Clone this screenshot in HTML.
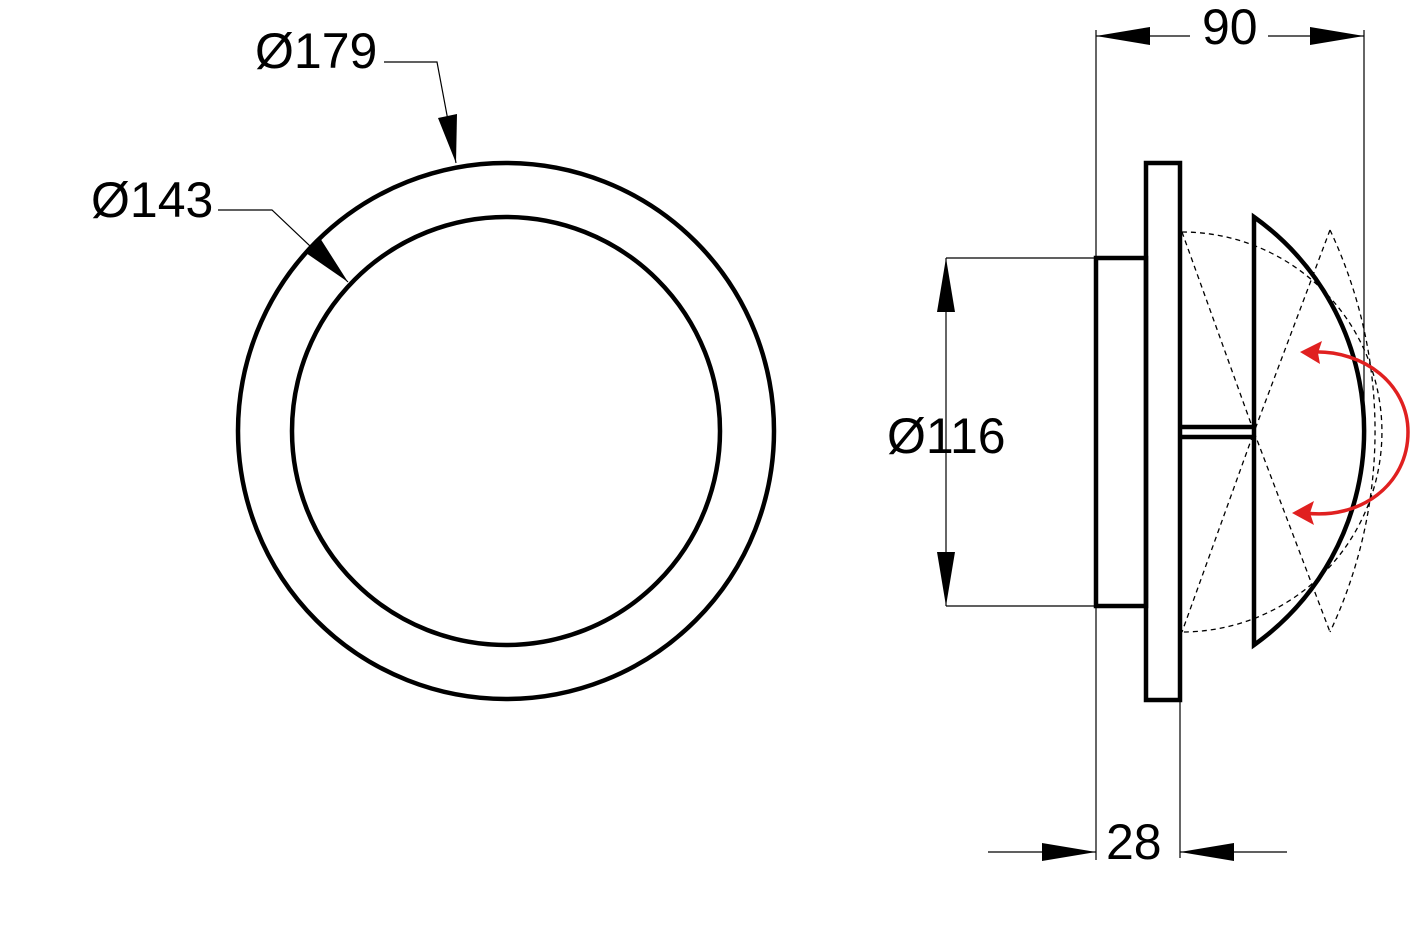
<!DOCTYPE html>
<html><head><meta charset="utf-8"><style>
html,body{margin:0;padding:0;background:#fff;}
svg{display:block;}
text{font-family:"Liberation Sans",sans-serif;font-size:50px;fill:#000;}
</style></head><body>
<svg width="1410" height="925" viewBox="0 0 1410 925" xmlns="http://www.w3.org/2000/svg">
<rect width="1410" height="925" fill="#fff"/>
<circle cx="506" cy="431" r="268" fill="none" stroke="#000" stroke-width="4.5"/>
<circle cx="506" cy="431" r="214" fill="none" stroke="#000" stroke-width="4.5"/>
<text x="255" y="68">Ø179</text>
<polyline points="384,62 437,62 456,163" fill="none" stroke="#000" stroke-width="1.2"/>
<polygon points="456,163 438,118 457,114" fill="#000"/>
<text x="91" y="217">Ø143</text>
<polyline points="218,210 272,210 348,282" fill="none" stroke="#000" stroke-width="1.2"/>
<polygon points="348,282 306,253 320,238" fill="#000"/>
<g stroke="#000" stroke-width="1.2" fill="none">
<line x1="1096" y1="30" x2="1096" y2="860"/>
<line x1="1364" y1="30" x2="1364" y2="431"/>
<line x1="1180" y1="700" x2="1180" y2="858"/>
<line x1="1096" y1="36" x2="1190" y2="36"/>
<line x1="1268" y1="36" x2="1364" y2="36"/>
<line x1="946" y1="258" x2="1096" y2="258"/>
<line x1="946" y1="606" x2="1096" y2="606"/>
<line x1="946" y1="258" x2="946" y2="606"/>
<line x1="988" y1="852" x2="1096" y2="852"/>
<line x1="1180" y1="852" x2="1287" y2="852"/>
</g>
<polygon points="1096,36 1150,27 1150,45" fill="#000"/>
<polygon points="1364,36 1310,27 1310,45" fill="#000"/>
<polygon points="946,258 937,312 955,312" fill="#000"/>
<polygon points="946,606 937,552 955,552" fill="#000"/>
<polygon points="1096,852 1042,843 1042,861" fill="#000"/>
<polygon points="1180,852 1234,843 1234,861" fill="#000"/>
<text x="1202" y="44">90</text>
<text x="1106" y="859">28</text>
<text x="887" y="453">Ø116</text>
<g stroke="#000" stroke-width="1.3" fill="none" stroke-dasharray="5,4">
<path d="M1182,232 A200,200 0 0 1 1182,632"/>
<polyline points="1182,232 1254,432 1182,632"/>
<path d="M1330,230 A471,471 0 0 1 1330,632"/>
<polyline points="1330,230 1254,432 1330,632"/>
</g>
<g stroke="#000" stroke-width="4.5" fill="none">
<rect x="1146" y="163" width="34" height="537" fill="#fff"/>
<rect x="1096" y="258" width="50" height="348"/>
<line x1="1180" y1="427" x2="1254" y2="427"/>
<line x1="1180" y1="437" x2="1254" y2="437"/>
<path d="M1254,217 L1254,645 A263,263 0 0 0 1254,217 Z"/>
</g>
<path d="M1312,352 C1365,350 1408,385 1408,432 C1408,485 1360,520 1305,513" fill="none" stroke="#e02020" stroke-width="3.5"/>
<polygon points="1300,352 1322,341 1318,353 1320,364" fill="#e02020"/>
<polygon points="1292,513 1314,501 1310,513 1314,525" fill="#e02020"/>
</svg>
</body></html>
